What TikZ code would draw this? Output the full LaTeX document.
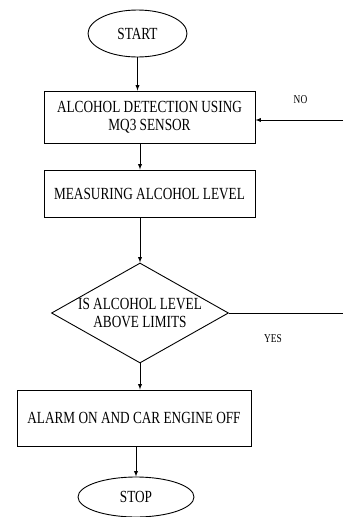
\documentclass[tikz,border=0pt]{standalone}
\usepackage{fontspec}
\setmainfont{Liberation Serif}[FakeStretch=0.78]
\usepackage{tikz}
\usetikzlibrary{shapes.geometric,
	arrows,
	calc,
	positioning}

\begin{document}
\begin{tikzpicture}[x=1pt, y=-1pt, line width=0.9pt, >=latex,
	font=\fontsize{17}{18.5}\selectfont,
	block/.style={draw, rectangle, inner sep=0pt, align=center},
	term/.style={draw, ellipse, inner sep=0pt},
	decision/.style={draw, diamond, inner sep=0pt, aspect=1.77, align=center,
		minimum width=177pt, minimum height=100pt},
	tag/.style={font=\fontsize{12}{14}\selectfont}]
	\useasboundingbox (0,0) rectangle (343,517);
	\node[term, minimum width=99pt, minimum height=47pt] (start) at (137.5,33.5) {START};
	\node[block, minimum width=211pt, minimum height=52pt] (det) at (149.5,117) {ALCOHOL DETECTION USING\\MQ3 SENSOR};
	\node[block, minimum width=211pt, minimum height=47pt] (meas) at (149.5,193.5) {MEASURING ALCOHOL LEVEL};
	\node[decision] (dec) at (140,313) {IS ALCOHOL LEVEL\\ABOVE LIMITS};
	\node[block, minimum width=234pt, minimum height=56pt] (alarm) at (134,418) {ALARM ON AND CAR ENGINE OFF};
	\node[term, minimum width=116pt, minimum height=40pt] (stop) at (136,497) {STOP};
	\node[tag] (no) at (300.5,100) {NO};
	\node[tag] (yes) at (273,339) {YES};
	\coordinate (loopin) at (343,120);
	\coordinate (loopout) at (343,313);
	\draw[->] (start.south) -- (start.south |- det.north);
	\draw[->] (det.south -| dec.north) -- (dec.north |- meas.north);
	\draw[->] (meas.south -| dec.north) -- (dec.north);
	\draw[->] (dec.south) -- (dec.south |- alarm.north);
	\draw[->] (alarm.south -| stop.north) -- (stop.north);
	\draw (dec.east) -- (loopout);
	\draw[->] (loopin) -- (loopin -| det.east);
\end{tikzpicture}
\end{document}
